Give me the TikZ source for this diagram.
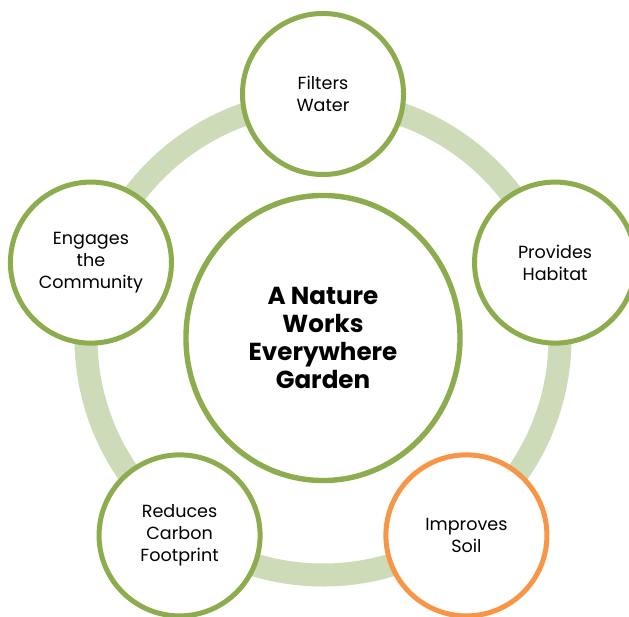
\documentclass[tikz,border=0pt]{standalone}
\usepackage{fontspec}
\setmainfont{Poppins}
\usetikzlibrary{shapes.geometric}
\definecolor{RingClr}{RGB}{205,219,185}
\definecolor{LeafClr}{RGB}{140,172,77}
\definecolor{SoilClr}{RGB}{247,150,70}

\begin{document}
\begin{tikzpicture}[x=0.025cm,y=0.025cm,
  petal/.style={circle,draw=LeafClr,line width=0.125cm,fill=white,
    minimum size=4.025cm,inner sep=0pt,align=center,
    font=\fontsize{12.5}{15.4}\selectfont},
  hub/.style={ellipse,draw=LeafClr,line width=0.135cm,fill=white,
    minimum width=6.85cm,minimum height=7.125cm,inner sep=0pt,align=center,
    font=\bfseries\fontsize{17.5}{20}\selectfont}]
\useasboundingbox (-323,-278) rectangle (306,338);

\coordinate (O) at (0,0);

\draw[RingClr,line width=0.575cm] (O) circle (237);

\node[hub] (G) at (O) {A Nature\\Works\\Everywhere\\Garden};

\node[petal] (W) at (90:244) {Filters\\Water};
\node[petal] (H) at (18:244) {Provides\\Habitat};
\node[petal,draw=SoilClr] (S) at (-54:244) {Improves\\Soil};
\node[petal] (C) at (-126:244) {Reduces\\Carbon\\Footprint};
\node[petal] (E) at (162:244) {Engages\\the\\Community};

\end{tikzpicture}
\end{document}
